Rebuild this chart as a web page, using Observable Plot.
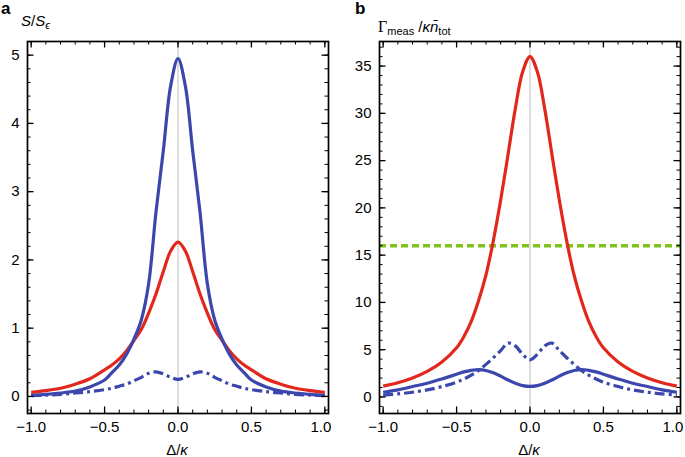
<!DOCTYPE html>
<html><head><meta charset="utf-8">
<script src="https://cdn.jsdelivr.net/npm/d3@7"></script>
<script src="https://cdn.jsdelivr.net/npm/@observablehq/plot@0.6"></script>
<style>
body{margin:0;background:#fff;}
#wrap{position:relative;width:685px;height:457px;font-family:"Liberation Sans",Arial,sans-serif;color:#000;overflow:hidden;}
#wrap svg{position:absolute;top:0;}
.lbl{position:absolute;white-space:nowrap;line-height:1;font-size:15px;}
.lbl sub{font-size:11px;vertical-align:-3px;line-height:0;}
.pl{font-weight:bold;font-size:17px;}
.ctr{transform:translateX(-50%);}
</style></head><body>
<div id="wrap"></div>
<script>
// Δ/κ sample positions
const xs = [-1,-0.9,-0.8,-0.7,-0.6,-0.5,-0.45,-0.4,-0.35,-0.3,-0.25,-0.2,-0.15,-0.1,-0.05,0,0.05,0.1,0.15,0.2,0.25,0.3,0.35,0.4,0.45,0.5,0.6,0.7,0.8,0.9,1];

// Panel a: S/S_eps
const aBlue   = [0.015,0.03,0.05,0.08,0.14,0.24,0.35,0.46,0.62,0.84,1.12,1.65,2.7,3.6,4.55,4.95,4.55,3.6,2.7,1.65,1.12,0.84,0.62,0.46,0.35,0.24,0.14,0.08,0.05,0.03,0.015];
const aRed    = [0.06,0.085,0.12,0.18,0.26,0.39,0.46,0.55,0.67,0.82,0.98,1.22,1.5,1.83,2.13,2.26,2.13,1.83,1.5,1.22,0.98,0.82,0.67,0.55,0.46,0.39,0.26,0.18,0.12,0.085,0.06];
const aBlueDD = [0.01,0.02,0.03,0.05,0.07,0.1,0.12,0.15,0.18,0.23,0.28,0.34,0.36,0.33,0.28,0.25,0.28,0.33,0.36,0.34,0.28,0.23,0.18,0.15,0.12,0.1,0.07,0.05,0.03,0.02,0.01];

// Panel b: Gamma_meas / kappa n_tot
const bRed    = [1.15,1.5,2.0,2.7,3.7,5.2,6.4,8.0,10.2,12.9,16.5,20.8,25.6,30.5,34.4,36.0,34.4,30.5,25.6,20.8,16.5,12.9,10.2,8.0,6.4,5.2,3.7,2.7,2.0,1.5,1.15];
const bBlue   = [0.5,0.75,1.1,1.45,1.9,2.4,2.65,2.82,2.9,2.8,2.55,2.2,1.8,1.45,1.2,1.11,1.2,1.45,1.8,2.2,2.55,2.8,2.9,2.82,2.65,2.4,1.9,1.45,1.1,0.75,0.5];
const bBlueDD = [0.2,0.32,0.5,0.75,1.1,1.57,1.9,2.3,2.8,3.45,4.15,4.9,5.7,5.4,4.5,3.93,4.5,5.4,5.7,4.9,4.15,3.45,2.8,2.3,1.9,1.57,1.1,0.75,0.5,0.32,0.2];
const bGreen  = 16;

// tick labels
const xMajor = [-1,-0.5,0,0.5,1];
const aYMajor = [0,1,2,3,4,5];
const bYMajor = [0,5,10,15,20,25,30,35];

const BLUE = "#3c47ae", RED = "#e2281c", GREEN = "#80c31c";
const DD = "10,4,3,4";

function panel({series, hline, yDomain, yMajor, yMinor, width, marginLeft, marginRight}) {
  const H = 457, mt = 41, mb = 44;
  const fh = H - mt - mb, fw = width - marginLeft - marginRight;
  const xMinor = d3.range(-10, 11).map(i => i / 10);
  const tk = {stroke: "#000", strokeWidth: 1};
  const marks = [Plot.ruleX([0], {stroke: "#c9c9c9", strokeWidth: 1.2})];
  if (hline != null) marks.push(Plot.ruleY([hline], {stroke: GREEN, strokeWidth: 3.5, strokeDasharray: "7,4"}));
  for (const s of series) {
    marks.push(Plot.line(xs.map((x, i) => ({x, y: s.values[i]})), {
      x: "x", y: "y", stroke: s.stroke, strokeWidth: 3.2, curve: "catmull-rom",
      strokeDasharray: s.dash, strokeLinecap: "butt", strokeLinejoin: "round"
    }));
  }
  const yMin = yMinor.filter(v => v > yDomain[0] && v < yDomain[1]);
  const fmt = d3.format(".1f");
  marks.push(
    Plot.tickX(xMinor, {x: d => d, insetTop: fh - 3.5, ...tk}),
    Plot.tickX(xMinor, {x: d => d, insetBottom: fh - 3.5, ...tk}),
    Plot.tickX(xMajor, {x: d => d, insetTop: fh - 6.5, ...tk, strokeWidth: 1.3}),
    Plot.tickX(xMajor, {x: d => d, insetBottom: fh - 6.5, ...tk, strokeWidth: 1.3}),
    Plot.tickY(yMin, {y: d => d, insetRight: fw - 3.5, ...tk}),
    Plot.tickY(yMin, {y: d => d, insetLeft: fw - 3.5, ...tk}),
    Plot.tickY(yMajor, {y: d => d, insetRight: fw - 6.5, ...tk, strokeWidth: 1.3}),
    Plot.tickY(yMajor, {y: d => d, insetLeft: fw - 6.5, ...tk, strokeWidth: 1.3}),
    Plot.frame({stroke: "#000", strokeWidth: 1.7}),
    Plot.axisX(xMajor.slice(0, -1), {tickSize: 0, tickPadding: 8, tickFormat: fmt, fontSize: 15, label: null}),
    Plot.axisX(xMajor.slice(-1), {tickSize: 0, tickPadding: 8, tickFormat: fmt, fontSize: 15, label: null, dx: -4}),
    Plot.axisY({ticks: yMajor, tickSize: 0, tickPadding: 8, tickFormat: d3.format("d"), fontSize: 15, label: null})
  );
  return Plot.plot({
    width, height: H, marginTop: mt, marginBottom: mb, marginLeft, marginRight,
    x: {domain: [-1.025, 1.025]}, y: {domain: yDomain},
    style: {fontFamily: "'Liberation Sans', Arial, sans-serif", fontSize: "15px", color: "#000", background: "transparent", overflow: "visible"},
    marks
  });
}

const wrap = document.getElementById("wrap");
const pa = panel({
  series: [
    {values: aRed, stroke: RED},
    {values: aBlue, stroke: BLUE},
    {values: aBlueDD, stroke: BLUE, dash: DD}
  ],
  yDomain: [-0.25, 5.2], yMajor: aYMajor, yMinor: d3.range(-1, 27).map(i => i / 5),
  width: 342, marginLeft: 27, marginRight: 14
});
pa.style.left = "0px";
const pb = panel({
  series: [
    {values: bRed, stroke: RED},
    {values: bBlue, stroke: BLUE},
    {values: bBlueDD, stroke: BLUE, dash: DD}
  ],
  hline: bGreen,
  yDomain: [-1.75, 37.6], yMajor: bYMajor, yMinor: d3.range(-1, 38),
  width: 343, marginLeft: 37, marginRight: 5
});
pb.style.left = "342px";
wrap.append(pa, pb);

const labels = [
  ['<span class="pl">a</span>', 1, 0, ""],
  ['<i>S</i>/<i>S</i><sub><i>ϵ</i></sub>', 21, 12.5, ""],
  ['<span class="pl">b</span>', 355, 0, ""],
  ['<span style="font-family:\'Liberation Serif\',serif;font-size:16px">Γ</span><sub>meas</sub> /<i>κn̄</i><sub>tot</sub>', 378, 19, ""],
  ['Δ/<i>κ</i>', 177, 442, "ctr"],
  ['Δ/<i>κ</i>', 529, 442, "ctr"]
];
for (const [html, x, y, cls] of labels) {
  const d = document.createElement("div");
  d.className = "lbl " + cls;
  d.innerHTML = html;
  d.style.left = x + "px";
  d.style.top = y + "px";
  wrap.append(d);
}
</script>
</body></html>
